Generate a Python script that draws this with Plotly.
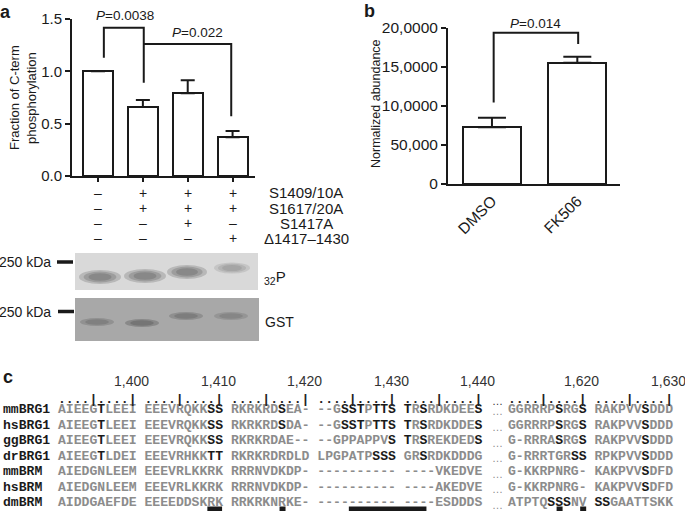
import plotly.graph_objects as go

W, H = 685, 511
def px(x): return x / W
def py(y): return 1 - y / H

SANS = "Liberation Sans, Arial, sans-serif"
MONO = "Liberation Mono, Courier New, monospace"
INK = "#1a1a1a"
GREY = "#8c8c8c"
NB = "\u00a0"

# ---------------- panel a data ----------------
a_lanes = [0, 1, 2, 3]
a_values = [1.0, 0.66, 0.79, 0.37]
a_errors = [0.0, 0.065, 0.125, 0.06]
a_ticks = [0, 0.5, 1.0, 1.5]
a_tick_text = ["0.0", "0.5", "1.0", "1.5"]
a_bracket1_x = [0.13, 0.13, 1.02, 1.02]
a_bracket1_y = [1.13, 1.417, 1.417, 0.89]
a_bracket2_x = [1.02, 2.97, 2.97]
a_bracket2_y = [1.26, 1.26, 0.57]
a_p_text = ["<i>P</i>=0.0038", "<i>P</i>=0.022"]
a_title_lines = ["Fraction of C-term", "phosphorylation"]

cond_labels = ["S1409/10A", "S1617/20A", "S1417A", "\u03941417\u20131430"]
cond_s1409 = ["\u2013", "+", "+", "+"]
cond_s1617 = ["\u2013", "+", "+", "+"]
cond_s1417 = ["\u2013", "\u2013", "+", "\u2013"]
cond_del = ["\u2013", "\u2013", "\u2013", "+"]
cond_rows = [cond_s1409, cond_s1617, cond_s1417, cond_del]

p32_band_intensity = [0.95, 0.95, 0.95, 0.55]
gst_band_intensity = [0.75, 1.0, 0.8, 0.6]

# ---------------- panel b data ----------------
b_cats = ["DMSO", "FK506"]
b_values = [72700, 155500]
b_errors = [12300, 7700]
b_ticks = [0, 50000, 100000, 150000, 200000]
b_tick_text = ["0", "50,000", "10,0000", "15,0000", "20,0000"]
b_bracket_x = [0.02, 0.02, 1.01, 1.01]
b_bracket_y = [104500, 194000, 194000, 179500]
b_p_text = "<i>P</i>=0.014"

# ---------------- panel c data (lowercase = highlighted residue) ----------------
species = ["mmBRG1", "hsBRG1", "ggBRG1", "drBRG1", "mmBRM", "hsBRM", "dmBRM"]
seq_mmBRG1 = ["AIEEGtLEEI", "EEEVRQKKss", "RKRKRDsEA-", "--GsstPtts", "tRsRDKDEEs", "GGRRRPsRGs", "RAKPVVsDDD"]
seq_hsBRG1 = ["AIEEGtLEEI", "EEEVRQKKss", "RKRKRDsDA-", "--GsstPtts", "tRsRDKDDEs", "GGRRRPsRGs", "RAKPVVsDDD"]
seq_ggBRG1 = ["AIEEGtLEEI", "EEEVRQKKss", "RKRKRDAE--", "--GPPAPPVs", "tRsREKDEDs", "G-RRRAsRGs", "RAKPVVsDDD"]
seq_drBRG1 = ["AIEEGtLDEI", "EEEVRHKKtt", "RKRKRDRDLD", "LPGPATPsss", "GRsRDKDDDG", "G-RRRTGRss", "RPKPVVsDDD"]
seq_mmBRM = ["AIEDGNLEEM", "EEEVRLKKRK", "RRRNVDKDP-", "----------", "----VKEDVE", "G-KKRPNRG-", "KAKPVVsDFD"]
seq_hsBRM = ["AIEDGNLEEM", "EEEVRLKKRK", "RRRNVDKDP-", "----------", "----AKEDVE", "G-KKRPNRG-", "KAKPVVsDFD"]
seq_dmBRM = ["AIDDGAEFDE", "EEEEDDSKRK", "RRKRKNRKE-", "----------", "----ESDDDS", "ATPTQsssNV", "ssGAATTSKK"]
sequences = [seq_mmBRG1, seq_hsBRG1, seq_ggBRG1, seq_drBRG1, seq_mmBRM, seq_hsBRM, seq_dmBRM]
position_labels = ["1,400", "1,410", "1,420", "1,430", "1,440", "1,620", "1,630"]
# marked alignment columns (0-49 left part, 50-69 right part): (first, last, wide)
marker_cols = [(18, 19, True), (26, 26, False), (34, 42, True), (56, 56, False), (59, 59, False)]

fig = go.Figure()

# panel a bars
fig.add_trace(go.Bar(
    x=a_lanes, y=a_values, width=0.67,
    marker=dict(color="white", line=dict(color=INK, width=2)),
    error_y=dict(type="data", array=a_errors, arrayminus=[0] * 4, symmetric=False,
                 color=INK, thickness=2, width=7),
    xaxis="x", yaxis="y", showlegend=False))
for bx, by in [(a_bracket1_x, a_bracket1_y), (a_bracket2_x, a_bracket2_y)]:
    fig.add_trace(go.Scatter(x=bx, y=by, mode="lines", line=dict(color=INK, width=2),
                             xaxis="x", yaxis="y", showlegend=False, cliponaxis=False))

# panel b bars
fig.add_trace(go.Bar(
    x=[0, 1], y=b_values, width=0.68,
    marker=dict(color="white", line=dict(color=INK, width=2)),
    error_y=dict(type="data", array=b_errors, arrayminus=[0, 0], symmetric=False,
                 color=INK, thickness=2, width=14),
    xaxis="x2", yaxis="y2", showlegend=False))
fig.add_trace(go.Scatter(x=b_bracket_x, y=b_bracket_y, mode="lines", line=dict(color=INK, width=2),
                         xaxis="x2", yaxis="y2", showlegend=False, cliponaxis=False))

annotations = []
shapes = []

def ann(text, x, y, size, color=INK, family=SANS, **kw):
    d = dict(text=text, x=px(x), y=py(y), xref="paper", yref="paper", showarrow=False,
             xanchor="center", yanchor="middle", font=dict(family=family, size=size, color=color))
    d.update(kw)
    return d

# panel letters
annotations.append(ann("<b>a</b>", 5, 12, 18))
annotations.append(ann("<b>b</b>", 369, 11, 18))
annotations.append(ann("<b>c</b>", 8, 377, 18))

# panel a texts
annotations.append(ann(a_title_lines[0], 14, 98, 13, textangle=-90))
annotations.append(ann(a_title_lines[1], 31, 98, 13, textangle=-90))
annotations.append(ann(a_p_text[0], 125, 15, 13.5))
annotations.append(ann(a_p_text[1], 197, 32, 13.5))
row_y = [193, 208, 223, 238]
for r, (lab, vals) in enumerate(zip(cond_labels, cond_rows)):
    for lane, v in zip(a_lanes, vals):
        annotations.append(dict(text=v, x=lane, xref="x", y=py(row_y[r]), yref="paper",
                                showarrow=False, xanchor="center", yanchor="middle",
                                font=dict(family=SANS, size=14, color=INK)))
    annotations.append(ann(lab, 306, row_y[r], 15))

# gels
shapes.append(dict(type="rect", xref="paper", yref="paper", x0=px(75), x1=px(258),
                   y0=py(290), y1=py(253), fillcolor="#d9d9d9", line=dict(width=0), layer="above"))
p32_lane_x = [100, 145, 187, 232]
p32_lane_y = [277, 276, 272, 268]
p32_w = [42, 42, 40, 36]
p32_h = [14, 14, 14, 11]
for cx, cy, w, h, inten in zip(p32_lane_x, p32_lane_y, p32_w, p32_h, p32_band_intensity):
    for s in [1.0, 0.78, 0.55]:
        shapes.append(dict(type="circle", xref="paper", yref="paper",
                           x0=px(cx - w * s / 2), x1=px(cx + w * s / 2),
                           y0=py(cy + h * s / 2), y1=py(cy - h * s / 2),
                           fillcolor="#3a3a3a", opacity=0.22 * inten, line=dict(width=0), layer="above"))
shapes.append(dict(type="rect", xref="paper", yref="paper", x0=px(75), x1=px(259),
                   y0=py(341), y1=py(298), fillcolor="#a8a8a8", line=dict(width=0), layer="above"))
gst_lane_x = [97, 142, 186, 231]
gst_lane_y = [322, 323, 316, 316]
for cx, cy, inten in zip(gst_lane_x, gst_lane_y, gst_band_intensity):
    for s in [1.0, 0.7]:
        shapes.append(dict(type="circle", xref="paper", yref="paper",
                           x0=px(cx - 17 * s), x1=px(cx + 17 * s),
                           y0=py(cy + 4 * s), y1=py(cy - 4 * s),
                           fillcolor="#505050", opacity=0.35 * inten, line=dict(width=0), layer="above"))
for (x0, x1, y) in [(57, 73, 262), (58, 74, 311.5)]:
    shapes.append(dict(type="line", xref="paper", yref="paper", x0=px(x0), x1=px(x1),
                       y0=py(y), y1=py(y), line=dict(color=INK, width=3.5)))
annotations.append(ann("250 kDa", 53, 262, 14, xanchor="right"))
annotations.append(ann("250 kDa", 53, 311.5, 14, xanchor="right"))
annotations.append(ann("<sub>32</sub>P", 262, 277, 15, xanchor="left"))
annotations.append(ann("GST", 263, 322, 14, xanchor="left"))

# panel b texts
annotations.append(ann("Normalized abundance", 376, 104, 12.5, textangle=-90))
annotations.append(ann(b_p_text, 535, 23, 13.5))

# panel c alignment
FS = 13.1
CW = FS * 0.6
LEFT_X = 2.0
RIGHT_X = 507.0
NAME_W = 7

def col_x(col):
    if col < 50:
        b, p = divmod(col, 10)
        return LEFT_X + (NAME_W + b * 11 + p) * CW
    b, p = divmod(col - 50, 10)
    return RIGHT_X + (b * 11 + p) * CW

def markup(block):
    out, run = "", ""
    for ch in block:
        if ch.islower():
            run += ch.upper()
        else:
            if run:
                out += f'<span style="color:{INK}">{run}</span>'
                run = ""
            out += ch
    if run:
        out += f'<span style="color:{INK}">{run}</span>'
    return out

seq_y = [409, 425, 440.5, 456, 471.5, 487, 502.5]
ruler_y = 399
label_y = 381

for name, blocks, y in zip(species, sequences, seq_y):
    left = f'<span style="color:{INK}">{name.ljust(NAME_W).replace(" ", NB)}</span>' + NB.join(markup(b) for b in blocks[:5])
    right = NB.join(markup(b) for b in blocks[5:])
    annotations.append(ann(left, LEFT_X - 1, y, FS, color=GREY, family=MONO, xanchor="left"))
    annotations[-1]["font"]["weight"] = "bold"
    annotations.append(ann(right, RIGHT_X - 1, y, FS, color=GREY, family=MONO, xanchor="left"))
    annotations[-1]["font"]["weight"] = "bold"
    annotations.append(ann("\u2026", 497, y + 2, 11, color=GREY))

ruler_block = "....|....|"
annotations.append(ann(NB * NAME_W + NB.join([ruler_block] * 5), LEFT_X - 1, ruler_y, FS,
                       color="#222", family=MONO, xanchor="left"))
annotations[-1]["font"]["weight"] = "bold"
annotations.append(ann(NB.join([ruler_block] * 2), RIGHT_X - 1, ruler_y, FS,
                       color="#222", family=MONO, xanchor="left"))
annotations[-1]["font"]["weight"] = "bold"
annotations.append(ann("\u2026", 497, ruler_y + 2, 11, color="#333"))
label_cols = [9, 19, 29, 39, 49, 59, 69]
for lab, c in zip(position_labels, label_cols):
    annotations.append(ann(lab, col_x(c) + CW / 2, label_y, 14, color="#333"))

for c0, c1, wide in marker_cols:
    if wide:
        x0, x1 = col_x(c0) + 1, col_x(c1) + CW
    else:
        cx = col_x(c0) + CW / 2 + 1.5
        x0, x1 = cx - 3, cx + 3
    shapes.append(dict(type="rect", xref="paper", yref="paper", x0=px(x0), x1=px(x1),
                       y0=py(513), y1=py(506.5), fillcolor=INK, line=dict(width=0)))

axis_common = dict(showline=True, linecolor=INK, linewidth=2, showgrid=False, zeroline=False,
                   tickcolor=INK, tickwidth=2, fixedrange=True, automargin=False)

fig.update_layout(
    template="none",
    width=W, height=H,
    autosize=False,
    margin=dict(l=0, r=0, t=0, b=0, pad=0, autoexpand=False),
    paper_bgcolor="white", plot_bgcolor="white",
    font=dict(family=SANS, color=INK),
    showlegend=False,
    bargap=0,
    xaxis=dict(domain=[px(72), px(255)], range=[-0.58, 3.5], anchor="y",
               ticks="outside", ticklen=4, tickvals=a_lanes, showticklabels=False, **axis_common),
    yaxis=dict(domain=[py(176), py(19)], range=[0, 1.5], anchor="x",
               ticks="outside", ticklen=5, tickvals=a_ticks, ticktext=a_tick_text,
               tickfont=dict(size=15, color=INK), **axis_common),
    xaxis2=dict(domain=[px(448), px(620)], range=[-0.515, 1.5], anchor="y2",
                ticks="", tickvals=[0, 1], ticktext=b_cats, tickangle=-45,
                tickfont=dict(size=15.5, color=INK), **axis_common),
    yaxis2=dict(domain=[py(184), py(28)], range=[0, 200000], anchor="x2",
                ticks="outside", ticklen=5, tickvals=b_ticks, ticktext=b_tick_text,
                tickfont=dict(size=15.5, color=INK), **axis_common),
    annotations=annotations,
    shapes=shapes,
)

fig.write_html("out.html", config={"displayModeBar": False},
               post_script="document.body.style.margin='0';document.body.style.overflow='hidden';")
